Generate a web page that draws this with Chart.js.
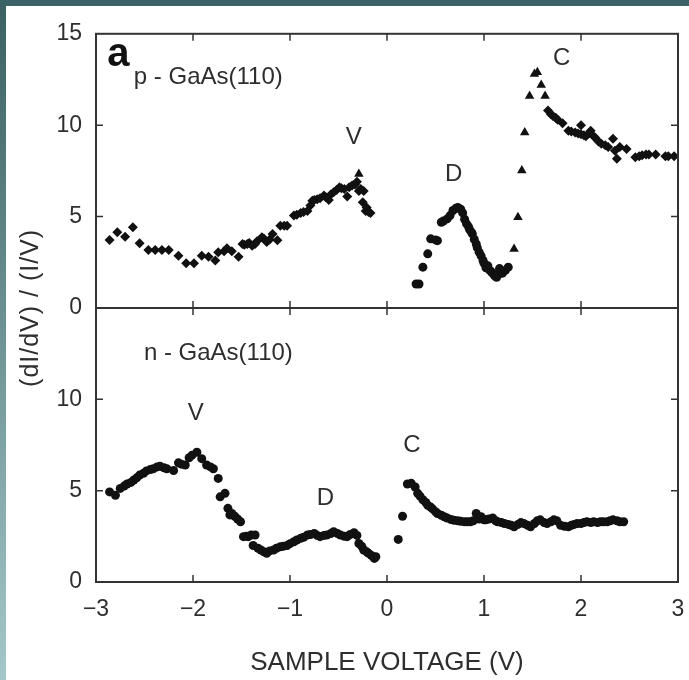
<!DOCTYPE html>
<html>
<head>
<meta charset="utf-8">
<script src="https://cdn.jsdelivr.net/npm/chart.js@4.4.1/dist/chart.umd.min.js"></script>
<style>
  html, body { margin: 0; padding: 0; }
  body { width: 689px; height: 680px; overflow: hidden; position: relative;
         background: linear-gradient(to bottom, #3a6064, #a3c7ca); }
  #topband { position: absolute; left: 0; top: 0; width: 689px; height: 6px; background: #3b6266; }
  #panel { position: absolute; left: 6px; top: 6px; width: 683px; height: 674px; background: #fff; }
</style>
</head>
<body>
<div id="topband"></div>
<div id="panel"><canvas id="chart" width="683" height="674"></canvas></div>
<script>
// p-GaAs(110), upper panel: [sample voltage, (dI/dV)/(I/V)]
const pValence = [
  [-2.86,3.72],[-2.78,4.14],[-2.70,3.90],[-2.62,4.42],[-2.55,3.54],[-2.46,3.17],[-2.39,3.17],[-2.32,3.17],
  [-2.25,3.17],[-2.15,2.86],[-2.07,2.45],[-1.99,2.45],[-1.91,2.86],[-1.84,2.80],[-1.77,2.60],[-1.74,3.05],
  [-1.68,3.10],[-1.65,3.27],[-1.60,3.10],[-1.53,2.80],[-1.49,3.50],[-1.47,3.45],[-1.44,3.50],[-1.42,3.55],
  [-1.39,3.40],[-1.36,3.50],[-1.34,3.65],[-1.29,3.87],[-1.27,3.80],[-1.24,3.60],[-1.21,3.75],[-1.18,4.05],
  [-1.13,3.70],[-1.10,4.50],[-1.06,4.50],[-1.03,4.50],[-0.96,5.05],[-0.93,5.10],[-0.89,5.20],[-0.86,5.25],
  [-0.82,5.30],[-0.79,5.60],[-0.77,5.87],[-0.75,5.90],[-0.72,5.95],[-0.69,6.00],[-0.65,6.15],[-0.63,6.05],
  [-0.60,5.90],[-0.58,6.20],[-0.55,6.33],[-0.52,6.45],[-0.49,6.60],[-0.47,6.55],[-0.44,6.50],[-0.41,6.10],
  [-0.39,6.60],[-0.36,6.70],[-0.33,6.75],[-0.31,6.90],[-0.29,6.40],[-0.27,6.50],[-0.25,5.78],[-0.24,6.40],
  [-0.22,5.30],[-0.21,5.50],[-0.19,5.25],[-0.17,5.20]
];
const pDefect = [
  [0.30,1.31],[0.33,1.31],[0.37,2.23],[0.42,2.96],[0.45,3.78],[0.50,3.72],[0.52,3.68],[0.56,4.69],
  [0.58,4.75],[0.62,4.87],[0.65,5.05],[0.68,5.33],[0.71,5.45],[0.73,5.50],[0.76,5.40],[0.78,5.20],
  [0.80,4.85],[0.82,4.60],[0.84,4.45],[0.85,4.30],[0.87,4.15],[0.88,4.05],[0.90,3.75],[0.92,3.50],
  [0.93,3.30],[0.95,3.05],[0.97,2.85],[0.99,2.60],[1.00,2.45],[1.02,2.20],[1.04,2.30],[1.06,2.05],
  [1.08,1.95],[1.09,1.90],[1.11,1.75],[1.13,1.68],[1.15,1.85],[1.16,2.15],[1.19,1.90],[1.22,2.05],[1.25,2.23]
];
const pTriangles = [
  [-0.29,7.33],[1.31,3.23],[1.35,4.96],[1.39,7.52],[1.42,9.60],[1.47,11.60],[1.52,12.80],[1.55,12.90],
  [1.59,12.20],[1.63,11.60]
];
const pConduction = [
  [1.66,10.8],[1.69,10.6],[1.71,10.5],[1.74,10.4],[1.76,10.3],[1.81,10.1],[1.87,9.70],[1.90,9.65],
  [1.94,9.60],[1.97,9.55],[2.00,10.0],[2.00,9.50],[2.03,9.45],[2.05,9.40],[2.08,9.55],[2.10,9.70],
  [2.13,9.40],[2.15,9.30],[2.18,9.10],[2.21,8.98],[2.25,8.90],[2.28,8.80],[2.33,9.25],[2.35,8.60],
  [2.37,8.16],[2.40,8.80],[2.47,8.70],[2.56,8.25],[2.60,8.30],[2.63,8.35],[2.67,8.40],[2.70,8.40],
  [2.77,8.40],[2.87,8.30],[2.90,8.30],[2.96,8.30]
];

// n-GaAs(110), lower panel
const nValence = [
  [-2.86,4.93],[-2.80,4.75],[-2.75,5.12],[-2.71,5.25],[-2.68,5.36],[-2.64,5.45],[-2.61,5.58],[-2.58,5.70],
  [-2.55,5.85],[-2.51,5.95],[-2.48,6.08],[-2.44,6.15],[-2.41,6.20],[-2.37,6.30],[-2.34,6.34],[-2.30,6.25],
  [-2.27,6.20],[-2.20,6.10],[-2.15,6.52],[-2.12,6.45],[-2.08,6.40],[-2.04,6.80],[-2.01,6.94],[-1.96,7.10],
  [-1.91,6.75],[-1.86,6.40],[-1.82,6.30],[-1.79,6.20],[-1.74,5.67],[-1.72,4.66],[-1.67,4.85],[-1.64,4.03],
  [-1.62,3.67],[-1.60,3.75],[-1.57,3.60],[-1.54,3.45],[-1.51,3.30],[-1.48,2.48],[-1.45,2.50],[-1.43,2.48],
  [-1.40,2.57],[-1.38,2.00],[-1.36,2.57],[-1.33,1.85],[-1.30,1.75],[-1.27,1.65],[-1.24,1.57],[-1.21,1.70],
  [-1.17,1.75],[-1.14,1.85],[-1.10,1.93],[-1.07,1.95],[-1.03,2.00],[-1.00,2.10],[-0.96,2.20],[-0.93,2.30],
  [-0.89,2.39],[-0.86,2.45],[-0.82,2.57],[-0.79,2.60],[-0.75,2.66],[-0.72,2.55],[-0.69,2.48],[-0.65,2.55],
  [-0.62,2.57],[-0.58,2.65],[-0.55,2.75],[-0.51,2.65],[-0.48,2.57],[-0.44,2.50],[-0.41,2.48],[-0.38,2.60],
  [-0.34,2.70],[-0.31,2.55],[-0.29,2.11],[-0.26,1.95],[-0.24,1.75],[-0.21,1.65],[-0.19,1.57],[-0.16,1.45],
  [-0.13,1.29],[-0.115,1.38]
];
const nConduction = [
  [0.116,2.33],[0.16,3.60],[0.21,5.36],[0.25,5.40],[0.29,5.20],[0.316,4.85],[0.34,4.70],[0.37,4.50],
  [0.40,4.35],[0.42,4.20],[0.45,4.10],[0.47,4.00],[0.50,3.85],[0.52,3.75],[0.56,3.65],[0.59,3.57],
  [0.62,3.50],[0.66,3.42],[0.69,3.38],[0.73,3.35],[0.76,3.32],[0.80,3.30],[0.83,3.30],[0.86,3.30],
  [0.89,3.35],[0.92,3.75],[0.95,3.45],[0.97,3.57],[1.00,3.40],[1.02,3.40],[1.05,3.45],[1.09,3.50],
  [1.12,3.35],[1.14,3.30],[1.18,3.25],[1.21,3.20],[1.25,3.15],[1.28,3.10],[1.31,3.02],[1.35,3.15],
  [1.38,3.25],[1.41,3.20],[1.45,3.10],[1.48,3.02],[1.52,3.20],[1.55,3.35],[1.58,3.40],[1.62,3.25],
  [1.65,3.20],[1.69,3.30],[1.72,3.40],[1.75,3.35],[1.79,3.10],[1.83,3.05],[1.87,3.02],[1.90,3.10],
  [1.93,3.15],[1.96,3.20],[2.00,3.20],[2.03,3.25],[2.06,3.30],[2.10,3.25],[2.13,3.30],[2.17,3.25],
  [2.20,3.30],[2.23,3.30],[2.27,3.30],[2.30,3.35],[2.33,3.40],[2.37,3.35],[2.40,3.30],[2.44,3.30]
];

const xTicks = [-3, -2, -1, 0, 1, 2, 3];
const yTicks = [0, 5, 10, 15];

// text placed inside the panels: [text, scale, x, y, align]
const panelLabels = [
  ['p - GaAs(110)', 'yTop', -2.61, 12.6, 'left'],
  ['V', 'yTop', -0.343, 9.34, 'center'],
  ['D', 'yTop', 0.686, 7.33, 'center'],
  ['C', 'yTop', 1.80, 13.63, 'center'],
  ['n - GaAs(110)', 'yBot', -2.506, 12.51, 'left'],
  ['V', 'yBot', -1.971, 9.22, 'center'],
  ['D', 'yBot', -0.634, 4.57, 'center'],
  ['C', 'yBot', 0.258, 7.49, 'center']
];

const FONT = '"Liberation Sans", Arial, sans-serif';
const TEXT_COLOR = '#2e2e2e';
const FRAME_COLOR = '#333';
const MARK = '#111';
const TICK = 7;

const toXY = pts => pts.map(p => ({ x: p[0], y: p[1] }));

const framePlugin = {
    id: 'frame',
    afterDatasetsDraw(chart) {
        const { ctx, chartArea, scales } = chart;
        const x = scales.x;
        const mid = scales.yTop.getPixelForValue(0);
        ctx.save();
        ctx.strokeStyle = FRAME_COLOR;
        ctx.lineWidth = 2;
        ctx.strokeRect(chartArea.left, chartArea.top, chartArea.width, chartArea.height);
        ctx.beginPath();
        ctx.moveTo(chartArea.left, mid);
        ctx.lineTo(chartArea.right, mid);
        ctx.stroke();

        ctx.lineWidth = 1.5;
        ctx.beginPath();
        x.ticks.forEach(t => {
            if (t.value <= x.min || t.value >= x.max) return;
            const px = x.getPixelForValue(t.value);
            ctx.moveTo(px, chartArea.top); ctx.lineTo(px, chartArea.top + TICK);
            ctx.moveTo(px, mid - TICK); ctx.lineTo(px, mid + TICK);
            ctx.moveTo(px, chartArea.bottom); ctx.lineTo(px, chartArea.bottom - TICK);
        });
        [scales.yTop, scales.yBot].forEach(s => s.ticks.forEach(t => {
            if (t.value <= s.min || t.value >= s.max) return;
            const py = s.getPixelForValue(t.value);
            ctx.moveTo(chartArea.left, py); ctx.lineTo(chartArea.left + TICK, py);
            ctx.moveTo(chartArea.right, py); ctx.lineTo(chartArea.right - TICK, py);
        }));
        ctx.stroke();

        ctx.fillStyle = TEXT_COLOR;
        ctx.textBaseline = 'middle';
        ctx.font = `24px ${FONT}`;
        panelLabels.forEach(([text, axis, vx, vy, align]) => {
            ctx.textAlign = align;
            ctx.fillText(text, x.getPixelForValue(vx), scales[axis].getPixelForValue(vy));
        });

        // panel letter
        ctx.fillStyle = '#111';
        ctx.font = `bold 40px ${FONT}`;
        ctx.textAlign = 'center';
        ctx.fillText('a', x.getPixelForValue(-2.77), scales.yTop.getPixelForValue(13.85));

        // shared y title
        ctx.fillStyle = TEXT_COLOR;
        ctx.font = `25px ${FONT}`;
        ctx.letterSpacing = '1px';
        ctx.translate(25, mid);
        ctx.rotate(-Math.PI / 2);
        ctx.textAlign = 'center';
        ctx.fillText('(dI/dV) / (I/V)', 0, 0);
        ctx.restore();
    }
};

const tickFont = { family: FONT, size: 23 };

function yScale(weight, dropTop) {
    return {
        type: 'linear',
        position: 'left',
        stack: 'panels',
        stackWeight: 1,
        weight,
        min: 0,
        max: 15,
        afterBuildTicks: s => {
            s.ticks = yTicks.filter(v => !dropTop || v < 15).map(v => ({ value: v }));
        },
        ticks: { font: tickFont, color: TEXT_COLOR, padding: 14 },
        grid: { display: false, drawTicks: false },
        border: { display: false },
        afterFit: s => { s.width = 90; }
    };
}

const ds = (label, pts, axis, style, radius) => ({
    label,
    data: toXY(pts),
    yAxisID: axis,
    pointStyle: style,
    pointRadius: radius,
    pointBackgroundColor: MARK,
    pointBorderColor: MARK,
    pointBorderWidth: 0,
    showLine: false
});

new Chart(document.getElementById('chart').getContext('2d'), {
    type: 'scatter',
    data: {
        datasets: [
            ds('p valence', pValence, 'yTop', 'rectRot', 5),
            ds('p defect', pDefect, 'yTop', 'circle', 4.5),
            ds('p rise', pTriangles, 'yTop', 'triangle', 5.5),
            ds('p conduction', pConduction, 'yTop', 'rectRot', 5),
            ds('n valence', nValence, 'yBot', 'circle', 4.5),
            ds('n conduction', nConduction, 'yBot', 'circle', 4.5)
        ]
    },
    options: {
        responsive: false,
        animation: false,
        layout: { padding: { top: 24, right: 11, left: 0, bottom: 0 } },
        plugins: { legend: { display: false }, tooltip: { enabled: false } },
        scales: {
            x: {
                type: 'linear',
                position: 'bottom',
                min: -3,
                max: 3,
                afterBuildTicks: s => { s.ticks = xTicks.map(v => ({ value: v })); },
                ticks: {
                    font: tickFont,
                    color: TEXT_COLOR,
                    padding: 14,
                    callback: v => String(v).replace('-', '\u2212')
                },
                grid: { display: false, drawTicks: false },
                border: { display: false },
                title: {
                    display: true,
                    text: 'SAMPLE VOLTAGE (V)',
                    color: TEXT_COLOR,
                    font: { family: FONT, size: 26 },
                    padding: { top: 0, bottom: 2 }
                },
                afterFit: s => {
                    s.height = 98;
                    s.paddingLeft = 0;
                    s.paddingRight = 0;
                }
            },
            yBot: yScale(0, true),
            yTop: yScale(1, false)
        }
    },
    plugins: [framePlugin]
});
</script>
</body>
</html>
